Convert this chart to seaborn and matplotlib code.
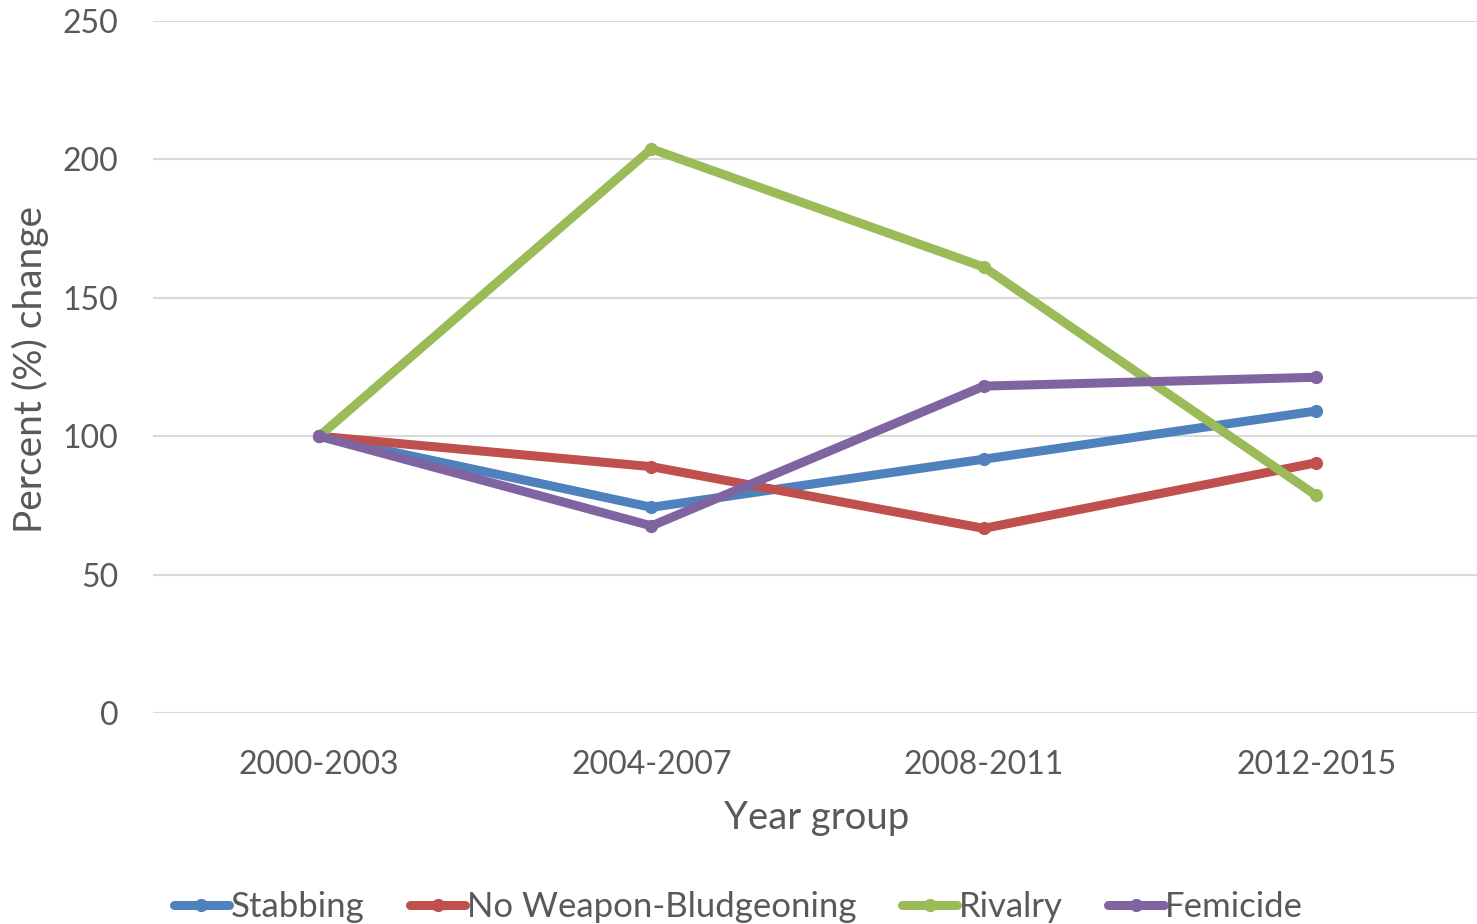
import matplotlib
matplotlib.use("Agg")
import matplotlib.pyplot as plt
import seaborn as sns
import pandas as pd
from matplotlib.lines import Line2D

categories = ["2000-2003", "2004-2007", "2008-2011", "2012-2015"]
stabbing = [100, 74.3, 91.7, 109.1]
no_weapon = [100, 89.0, 66.7, 90.4]
rivalry = [100, 203.8, 161.1, 78.6]
femicide = [100, 67.6, 118.1, 121.3]
series_names = ["Stabbing", "No Weapon-Bludgeoning", "Rivalry", "Femicide"]
colors = ["#4F81BD", "#C0504D", "#9BBB59", "#8064A2"]

rows = []
for name, vals in zip(series_names, [stabbing, no_weapon, rivalry, femicide]):
    for c, v in zip(categories, vals):
        rows.append({"Year group": c, "value": v, "series": name})
df = pd.DataFrame(rows)

sns.set_theme(style="white")
plt.rcParams["font.family"] = ["Lato", "DejaVu Sans"]
text_color = "#595959"

fig = plt.figure(figsize=(14.77, 9.24), dpi=100)
ax = fig.add_axes([153 / 1477, 1 - 713 / 924, 1 - 153 / 1477, (713 - 21) / 924])

sns.lineplot(data=df, x="Year group", y="value", hue="series", hue_order=series_names,
             palette=colors, marker="o", markersize=9.5, markeredgewidth=0,
             linewidth=6.5, sort=False, ax=ax, legend=False)

ax.set_xlim(-0.5, 3.484)
ax.set_ylim(0, 250)
ax.set_yticks([0, 50, 100, 150, 200, 250])
ax.grid(axis="y", color="#D9D9D9", linewidth=1.5)
ax.set_axisbelow(True)
for s in ["top", "right", "left", "bottom"]:
    ax.spines[s].set_visible(False)
ax.tick_params(axis="both", length=0, labelsize=23, labelcolor=text_color)
ax.tick_params(axis="y", pad=25)
ax.tick_params(axis="x", pad=27)
ax.set_xlabel("Year group", fontsize=27.5, color=text_color)
ax.set_ylabel("Percent (%) change", fontsize=28, color=text_color)
ax.xaxis.set_label_coords((817 - 153) / 1324, -(818 - 713) / 692)
ax.xaxis.label.set_va("center")
ax.yaxis.set_label_coords((30 - 153) / 1324, (713 - 369) / 692)
ax.yaxis.label.set_va("center")

handles = [Line2D([0], [0], color=c, linewidth=6.5, marker="o", markersize=9.5,
                  markeredgewidth=0) for c in colors]
fig.legend(handles, series_names, loc="center", bbox_to_anchor=(0.5, 1 - 907 / 924),
           ncol=4, frameon=False, fontsize=25, handlelength=1.6, handletextpad=0.05,
           columnspacing=1.3, labelcolor=text_color)

fig.savefig("out.png", dpi=100)
